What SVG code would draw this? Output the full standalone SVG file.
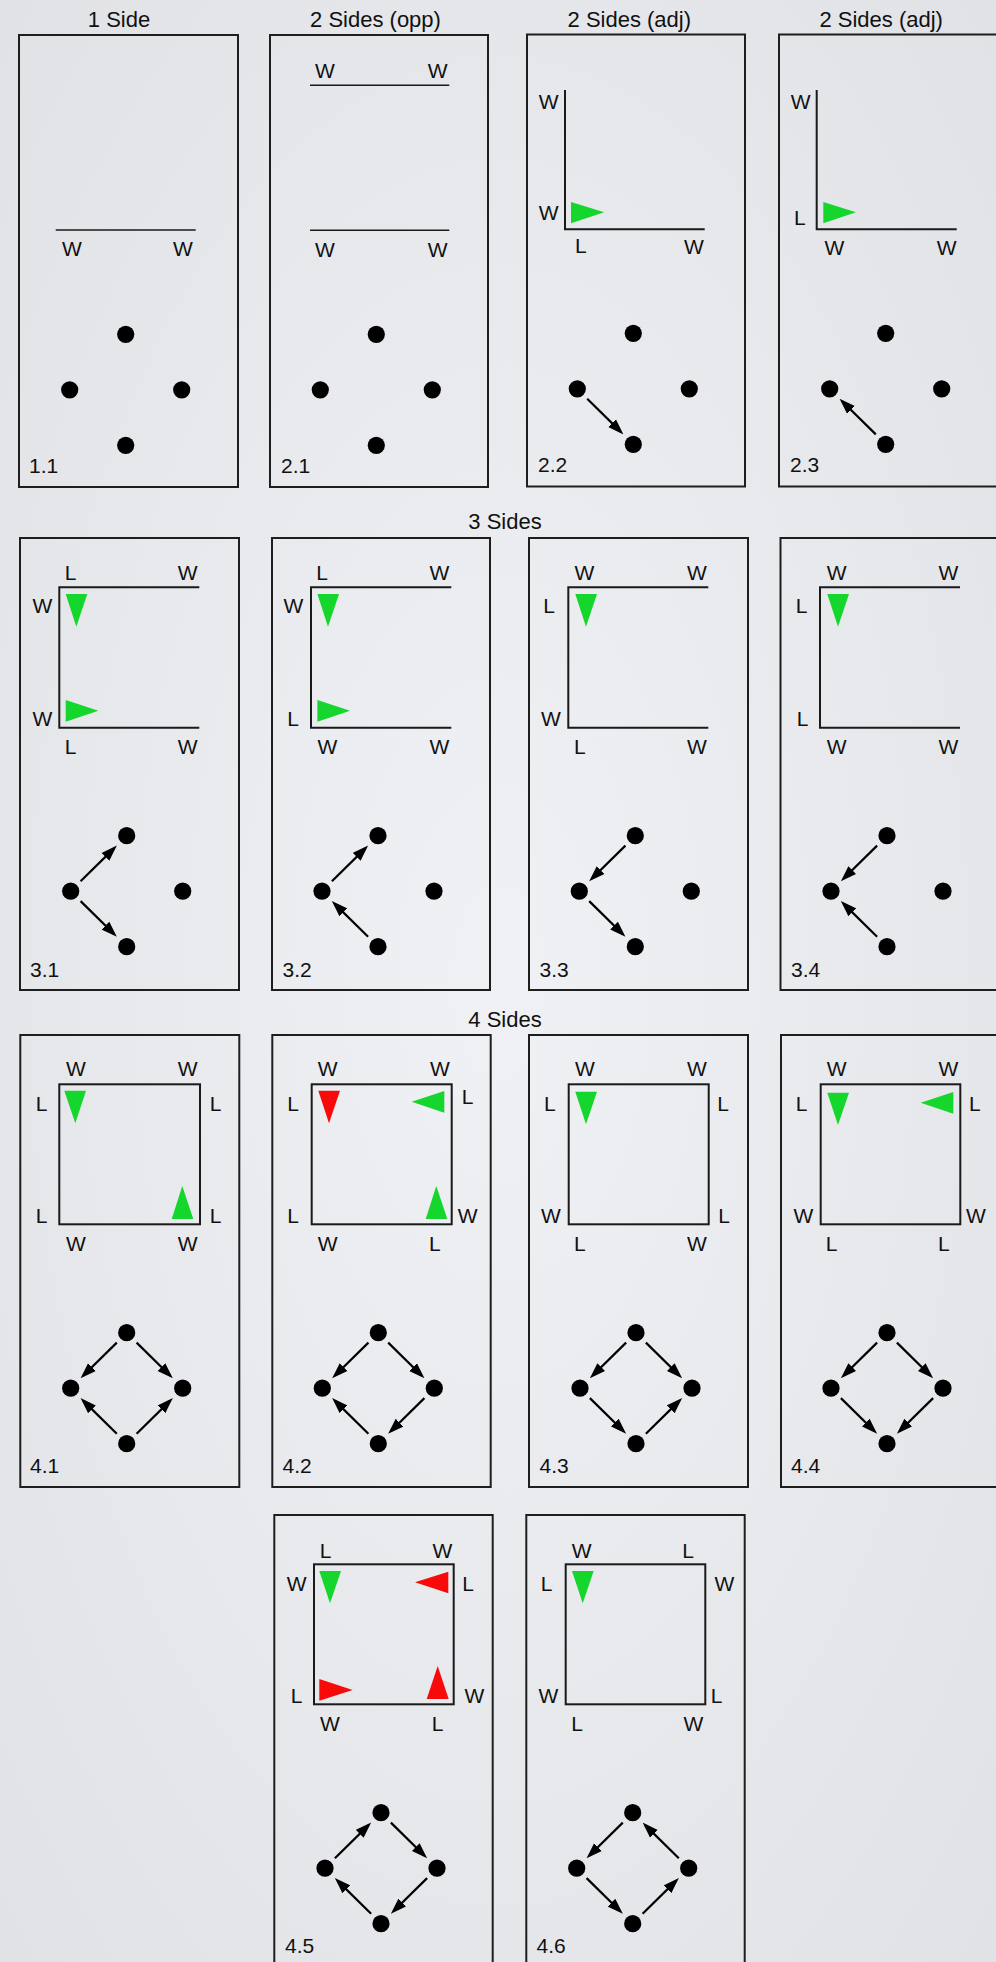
<svg xmlns="http://www.w3.org/2000/svg" xmlns:xlink="http://www.w3.org/1999/xlink" width="996" height="1962" viewBox="0 0 996 1962">
<style>
  text { font-family: "Liberation Sans", Arial, Helvetica, sans-serif; fill: #111; }
  .title { font-size: 22px; text-anchor: middle; }
  .lab { font-size: 21px; text-anchor: middle; }
  .num { font-size: 21px; }
  .panel { fill: none; stroke: #1e1e1e; stroke-width: 2; }
  .wall { fill: none; stroke: #1a1a1a; stroke-width: 2; }
  .wall1 { fill: none; stroke: #1a1a1a; stroke-width: 1.5; }
  .g { fill: #14d62c; }
  .r { fill: #f80a0a; }
  .dot { fill: #000; }
  .arr { stroke: #000; stroke-width: 2.2; fill: none; marker-end: url(#ah); }
</style>
<defs>
  <radialGradient id="bg" cx="50%" cy="50%" r="75%">
    <stop offset="0" stop-color="#eff1f4"/>
    <stop offset="1" stop-color="#dfe1e5"/>
  </radialGradient>
  <marker id="ah" markerUnits="userSpaceOnUse" markerWidth="16" markerHeight="12" refX="12" refY="6" orient="auto">
    <path d="M0,0.5 L16,6 L0,11.5 z" fill="#000"/>
  </marker>
  <g id="dots">
    <circle class="dot" cx="0" cy="0" r="8.6"/>
    <circle class="dot" cx="-56" cy="55.5" r="8.6"/>
    <circle class="dot" cx="56" cy="55.5" r="8.6"/>
    <circle class="dot" cx="0" cy="111" r="8.6"/>
  </g>
  <line id="tl" class="arr" x1="-9.9" y1="9.9" x2="-43.3" y2="42.8"/>
  <line id="lt" class="arr" x1="-46.1" y1="45.6" x2="-12.7" y2="12.7"/>
  <line id="tr" class="arr" x1="9.9" y1="9.9" x2="43.3" y2="42.8"/>
  <line id="rt" class="arr" x1="46.1" y1="45.6" x2="12.7" y2="12.7"/>
  <line id="lb" class="arr" x1="-46.1" y1="65.4" x2="-12.7" y2="98.3"/>
  <line id="bl" class="arr" x1="-9.9" y1="101.1" x2="-43.3" y2="68.2"/>
  <line id="rb" class="arr" x1="46.1" y1="65.4" x2="12.7" y2="98.3"/>
  <line id="br" class="arr" x1="9.9" y1="101.1" x2="43.3" y2="68.2"/>
</defs>
<rect x="0" y="0" width="996" height="1962" fill="url(#bg)"/>

<g id="titles">
  <text class="title" x="119" y="27">1 Side</text>
  <text class="title" x="375.5" y="27">2 Sides (opp)</text>
  <text class="title" x="629.3" y="27">2 Sides (adj)</text>
  <text class="title" x="881.2" y="27">2 Sides (adj)</text>
  <text class="title" x="505" y="529.3">3 Sides</text>
  <text class="title" x="505" y="1026.7">4 Sides</text>
</g>

<!-- Row 1 -->
<g id="p1-1">
  <rect class="panel" x="19" y="35" width="219" height="452"/>
  <line class="wall1" x1="55.7" y1="230" x2="195.7" y2="230"/>
  <text class="lab" x="72" y="255.7">W</text>
  <text class="lab" x="183" y="255.7">W</text>
  <use xlink:href="#dots" x="125.7" y="334.3"/>
  <text class="num" x="29" y="473">1.1</text>
</g>
<g id="p2-1">
  <rect class="panel" x="270" y="35" width="218" height="452"/>
  <line class="wall1" x1="310" y1="85.3" x2="449.3" y2="85.3"/>
  <line class="wall1" x1="310" y1="230.3" x2="449.3" y2="230.3"/>
  <text class="lab" x="325" y="77.7">W</text>
  <text class="lab" x="437.7" y="77.7">W</text>
  <text class="lab" x="325" y="256.7">W</text>
  <text class="lab" x="437.7" y="256.7">W</text>
  <use xlink:href="#dots" x="376.3" y="334.3"/>
  <text class="num" x="281" y="473">2.1</text>
</g>
<g id="p2-2">
  <rect class="panel" x="527" y="34.5" width="218" height="452"/>
  <path class="wall" d="M565,90 V229.3 H704.7"/>
  <text class="lab" x="548.7" y="109.3">W</text>
  <text class="lab" x="548.7" y="220">W</text>
  <text class="lab" x="580.8" y="253">L</text>
  <text class="lab" x="694" y="254">W</text>
  <polygon class="g" points="571,202 571,223.3 604.3,212.3"/>
  <use xlink:href="#dots" x="633.3" y="333.3"/>
  <text class="num" x="538" y="472">2.2</text>
</g>
<g id="p2-3">
  <rect class="panel" x="779" y="34.5" width="220" height="452"/>
  <path class="wall" d="M816.7,90 V229.3 H956.7"/>
  <text class="lab" x="800.7" y="109.3">W</text>
  <text class="lab" x="799.8" y="225">L</text>
  <text class="lab" x="834.3" y="255">W</text>
  <text class="lab" x="946.7" y="255">W</text>
  <polygon class="g" points="823.3,202 823.3,223.3 856,212.3"/>
  <use xlink:href="#dots" x="885.7" y="333.3"/>
  <text class="num" x="790" y="472">2.3</text>
</g>

<!-- Row 2 -->
<g id="p3-1">
  <rect class="panel" x="20" y="538" width="219" height="452"/>
  <path class="wall" d="M199.3,587.3 H59.3 V727.7 H199.3"/>
  <text class="lab" x="70.5" y="580">L</text>
  <text class="lab" x="187.7" y="580">W</text>
  <text class="lab" x="42.3" y="613.3">W</text>
  <text class="lab" x="42.3" y="725.7">W</text>
  <text class="lab" x="70.5" y="754">L</text>
  <text class="lab" x="187.7" y="754">W</text>
  <polygon class="g" points="65.7,594 87.3,594 76.3,626.7"/>
  <polygon class="g" points="65.7,700 65.7,721.7 98.3,710.7"/>
  <use xlink:href="#dots" x="126.7" y="835.7"/>
  <text class="num" x="30" y="976.7">3.1</text>
</g>
<g id="p3-2">
  <rect class="panel" x="272" y="538" width="218" height="452"/>
  <path class="wall" d="M451.3,587.3 H311 V727.7 H451.3"/>
  <text class="lab" x="322" y="580">L</text>
  <text class="lab" x="439.3" y="580">W</text>
  <text class="lab" x="293.3" y="613.3">W</text>
  <text class="lab" x="293" y="725.7">L</text>
  <text class="lab" x="327.3" y="754">W</text>
  <text class="lab" x="439.3" y="754">W</text>
  <polygon class="g" points="317.4,594 339,594 328,626.7"/>
  <polygon class="g" points="317.4,700 317.4,721.7 350,710.7"/>
  <use xlink:href="#dots" x="378" y="835.7"/>
  <text class="num" x="282.5" y="976.7">3.2</text>
</g>
<g id="p3-3">
  <rect class="panel" x="529" y="538" width="219" height="452"/>
  <path class="wall" d="M708.3,587.3 H568.3 V727.7 H708.3"/>
  <text class="lab" x="584.3" y="580">W</text>
  <text class="lab" x="697" y="580">W</text>
  <text class="lab" x="549" y="613.3">L</text>
  <text class="lab" x="551" y="725.7">W</text>
  <text class="lab" x="579.8" y="754">L</text>
  <text class="lab" x="697" y="754">W</text>
  <polygon class="g" points="575.3,594 597,594 586,626.7"/>
  <use xlink:href="#dots" x="635.3" y="835.7"/>
  <text class="num" x="539.5" y="976.7">3.3</text>
</g>
<g id="p3-4">
  <rect class="panel" x="780.5" y="538" width="220" height="452"/>
  <path class="wall" d="M960,587.3 H820 V727.7 H960"/>
  <text class="lab" x="836.7" y="580">W</text>
  <text class="lab" x="948.3" y="580">W</text>
  <text class="lab" x="801.5" y="613.3">L</text>
  <text class="lab" x="802.5" y="725.7">L</text>
  <text class="lab" x="836.7" y="754">W</text>
  <text class="lab" x="948.3" y="754">W</text>
  <polygon class="g" points="827.3,594 849,594 838,626.7"/>
  <use xlink:href="#dots" x="887" y="835.7"/>
  <text class="num" x="791" y="976.7">3.4</text>
</g>

<!-- Row 3 -->
<g id="p4-1">
  <rect class="panel" x="20.3" y="1035" width="219" height="452"/>
  <rect class="wall" x="59.3" y="1084.3" width="140.7" height="140"/>
  <text class="lab" x="76" y="1076">W</text>
  <text class="lab" x="187.7" y="1076">W</text>
  <text class="lab" x="41.5" y="1110.7">L</text>
  <text class="lab" x="215.5" y="1110.7">L</text>
  <text class="lab" x="41.5" y="1222.7">L</text>
  <text class="lab" x="215.5" y="1222.7">L</text>
  <text class="lab" x="76" y="1250.7">W</text>
  <text class="lab" x="187.7" y="1250.7">W</text>
  <polygon class="g" points="64.3,1090.7 86,1090.7 75.3,1123.3"/>
  <polygon class="g" points="171.7,1219 193.3,1219 182.3,1186"/>
  <use xlink:href="#dots" x="126.7" y="1332.7"/>
  <text class="num" x="30" y="1473.3">4.1</text>
</g>
<g id="p4-2">
  <rect class="panel" x="272.3" y="1035" width="218.4" height="452"/>
  <rect class="wall" x="311.7" y="1084.3" width="140" height="140"/>
  <text class="lab" x="327.7" y="1076">W</text>
  <text class="lab" x="440" y="1076">W</text>
  <text class="lab" x="293" y="1110.7">L</text>
  <text class="lab" x="467.5" y="1104">L</text>
  <text class="lab" x="293" y="1222.7">L</text>
  <text class="lab" x="467.7" y="1222.7">W</text>
  <text class="lab" x="327.7" y="1250.7">W</text>
  <text class="lab" x="434.8" y="1250.7">L</text>
  <polygon class="r" points="318.3,1090.7 340,1090.7 329,1123.3"/>
  <polygon class="g" points="444.3,1091 444.3,1112.7 411.7,1101.7"/>
  <polygon class="g" points="425.7,1219 447.3,1219 436.3,1186"/>
  <use xlink:href="#dots" x="378.3" y="1332.7"/>
  <text class="num" x="282.5" y="1473.3">4.2</text>
</g>
<g id="p4-3">
  <rect class="panel" x="529" y="1035" width="219" height="452"/>
  <rect class="wall" x="568.7" y="1084.3" width="140" height="140"/>
  <text class="lab" x="585" y="1076">W</text>
  <text class="lab" x="697" y="1076">W</text>
  <text class="lab" x="549.8" y="1110.7">L</text>
  <text class="lab" x="723" y="1110.7">L</text>
  <text class="lab" x="551" y="1222.7">W</text>
  <text class="lab" x="724" y="1222.7">L</text>
  <text class="lab" x="579.8" y="1250.7">L</text>
  <text class="lab" x="697" y="1250.7">W</text>
  <polygon class="g" points="575.3,1091.7 597,1091.7 586,1124.3"/>
  <use xlink:href="#dots" x="636" y="1332.7"/>
  <text class="num" x="539.5" y="1473.3">4.3</text>
</g>
<g id="p4-4">
  <rect class="panel" x="781" y="1035" width="220" height="452"/>
  <rect class="wall" x="820.7" y="1084.3" width="139.6" height="140"/>
  <text class="lab" x="836.7" y="1076">W</text>
  <text class="lab" x="948.3" y="1076">W</text>
  <text class="lab" x="801.5" y="1110.7">L</text>
  <text class="lab" x="974.8" y="1110.7">L</text>
  <text class="lab" x="803.3" y="1222.7">W</text>
  <text class="lab" x="976" y="1222.7">W</text>
  <text class="lab" x="831.5" y="1250.7">L</text>
  <text class="lab" x="943.8" y="1250.7">L</text>
  <polygon class="g" points="827.3,1092.7 849,1092.7 838,1125"/>
  <polygon class="g" points="953.3,1092 953.3,1113.7 920.7,1102.7"/>
  <use xlink:href="#dots" x="887" y="1332.7"/>
  <text class="num" x="791" y="1473.3">4.4</text>
</g>

<!-- Row 4 -->
<g id="p4-5">
  <rect class="panel" x="274.3" y="1515" width="218.4" height="460"/>
  <rect class="wall" x="314" y="1564.3" width="139.7" height="140"/>
  <text class="lab" x="325.5" y="1557.7">L</text>
  <text class="lab" x="442.3" y="1557.7">W</text>
  <text class="lab" x="296.7" y="1590.7">W</text>
  <text class="lab" x="468" y="1590.7">L</text>
  <text class="lab" x="296.5" y="1702.7">L</text>
  <text class="lab" x="474.3" y="1702.7">W</text>
  <text class="lab" x="330" y="1730.7">W</text>
  <text class="lab" x="437.5" y="1730.7">L</text>
  <polygon class="g" points="319.3,1571 341,1571 330,1603.3"/>
  <polygon class="r" points="448.3,1571.7 448.3,1593.3 415,1582.3"/>
  <polygon class="r" points="319.3,1679 319.3,1700.7 352.7,1690"/>
  <polygon class="r" points="426.7,1699 448.7,1699 437.7,1666"/>
  <use xlink:href="#dots" x="381" y="1812.7"/>
  <text class="num" x="285" y="1953.3">4.5</text>
</g>
<g id="p4-6">
  <rect class="panel" x="526.3" y="1515" width="218.4" height="460"/>
  <rect class="wall" x="565.7" y="1564.3" width="139.6" height="140"/>
  <text class="lab" x="581.7" y="1557.7">W</text>
  <text class="lab" x="688" y="1557.7">L</text>
  <text class="lab" x="546.5" y="1590.7">L</text>
  <text class="lab" x="724.3" y="1590.7">W</text>
  <text class="lab" x="548.3" y="1702.7">W</text>
  <text class="lab" x="716.5" y="1702.7">L</text>
  <text class="lab" x="577" y="1730.7">L</text>
  <text class="lab" x="693.3" y="1730.7">W</text>
  <polygon class="g" points="572,1571 593.7,1571 582.7,1603.3"/>
  <use xlink:href="#dots" x="632.7" y="1812.7"/>
  <text class="num" x="536.5" y="1953.3">4.6</text>
</g>

<!-- Connectors -->
<g id="connectors">
  <use xlink:href="#lb" x="633.3" y="333.3"/>
  <use xlink:href="#bl" x="885.7" y="333.3"/>

  <use xlink:href="#lt" x="126.7" y="835.7"/>
  <use xlink:href="#lb" x="126.7" y="835.7"/>
  <use xlink:href="#lt" x="378" y="835.7"/>
  <use xlink:href="#bl" x="378" y="835.7"/>
  <use xlink:href="#tl" x="635.3" y="835.7"/>
  <use xlink:href="#lb" x="635.3" y="835.7"/>
  <use xlink:href="#tl" x="887" y="835.7"/>
  <use xlink:href="#bl" x="887" y="835.7"/>

  <use xlink:href="#tl" x="126.7" y="1332.7"/>
  <use xlink:href="#tr" x="126.7" y="1332.7"/>
  <use xlink:href="#bl" x="126.7" y="1332.7"/>
  <use xlink:href="#br" x="126.7" y="1332.7"/>

  <use xlink:href="#tl" x="378.3" y="1332.7"/>
  <use xlink:href="#tr" x="378.3" y="1332.7"/>
  <use xlink:href="#rb" x="378.3" y="1332.7"/>
  <use xlink:href="#bl" x="378.3" y="1332.7"/>

  <use xlink:href="#tl" x="636" y="1332.7"/>
  <use xlink:href="#tr" x="636" y="1332.7"/>
  <use xlink:href="#lb" x="636" y="1332.7"/>
  <use xlink:href="#br" x="636" y="1332.7"/>

  <use xlink:href="#tl" x="887" y="1332.7"/>
  <use xlink:href="#tr" x="887" y="1332.7"/>
  <use xlink:href="#lb" x="887" y="1332.7"/>
  <use xlink:href="#rb" x="887" y="1332.7"/>

  <use xlink:href="#lt" x="381" y="1812.7"/>
  <use xlink:href="#tr" x="381" y="1812.7"/>
  <use xlink:href="#rb" x="381" y="1812.7"/>
  <use xlink:href="#bl" x="381" y="1812.7"/>

  <use xlink:href="#tl" x="632.7" y="1812.7"/>
  <use xlink:href="#rt" x="632.7" y="1812.7"/>
  <use xlink:href="#lb" x="632.7" y="1812.7"/>
  <use xlink:href="#br" x="632.7" y="1812.7"/>
</g>
</svg>
